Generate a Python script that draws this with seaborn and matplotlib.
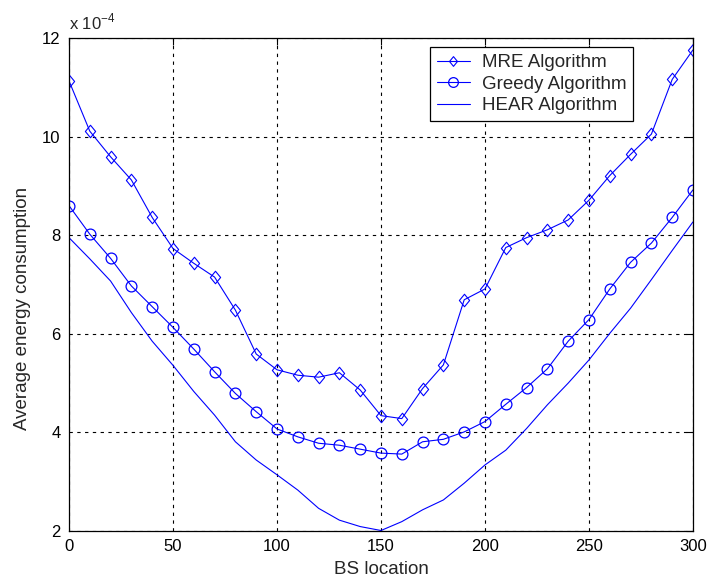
import numpy as np
import pandas as pd
import matplotlib
matplotlib.use("Agg")
import matplotlib.pyplot as plt
from matplotlib.path import Path
import seaborn as sns

# ---- data (values in units of 1e-4) ----
x_markers = [0, 10, 20, 30, 40, 50, 60, 70, 80, 90, 100, 110, 120, 130, 140, 150,
             160, 170, 180, 190, 200, 210, 220, 230, 240, 250, 260, 270, 280, 290, 300]
mre = [11.13, 10.11, 9.59, 9.12, 8.36, 7.73, 7.43, 7.15, 6.48, 5.59, 5.27, 5.16, 5.12,
       5.21, 4.86, 4.34, 4.28, 4.89, 5.37, 6.69, 6.91, 7.75, 7.95, 8.11, 8.31, 8.71,
       9.21, 9.64, 10.05, 11.16, 11.76]
greedy = [8.60, 8.02, 7.53, 6.97, 6.55, 6.13, 5.69, 5.23, 4.79, 4.42, 4.07, 3.91, 3.78,
          3.74, 3.66, 3.58, 3.56, 3.81, 3.86, 4.01, 4.22, 4.57, 4.91, 5.29, 5.85, 6.29,
          6.91, 7.45, 7.84, 8.36, 8.92]
hear = [7.95, 7.52, 7.07, 6.43, 5.85, 5.36, 4.83, 4.35, 3.81, 3.44, 3.14, 2.83, 2.46,
        2.22, 2.09, 2.01, 2.19, 2.43, 2.63, 2.97, 3.34, 3.64, 4.08, 4.56, 5.00, 5.47,
        6.01, 6.52, 7.10, 7.69, 8.27]

series_names = ["MRE Algorithm", "Greedy Algorithm", "HEAR Algorithm"]
x_ticks = [0, 50, 100, 150, 200, 250, 300]
y_ticks = [2, 4, 6, 8, 10, 12]

sns.set_style("white")
plt.rcParams['font.family'] = ['Liberation Sans', 'DejaVu Sans']
plt.rcParams['font.size'] = 12

fig = plt.figure(figsize=(7.08, 5.87), dpi=100)
ax = fig.add_axes([69/708, 56/587, 624/708, 493/587])

# diamond marker, slightly taller than wide (MATLAB style)
diamond = Path([(0, 1), (0.82, 0), (0, -1), (-0.82, 0), (0, 1)],
               [Path.MOVETO, Path.LINETO, Path.LINETO, Path.LINETO, Path.CLOSEPOLY])

df = pd.DataFrame({"x": x_markers, "MRE": mre, "Greedy": greedy, "HEAR": hear})
blue = "#0000ff"
sns.lineplot(data=df, x="x", y="MRE", ax=ax, color=blue, marker=diamond, markersize=9,
             markerfacecolor="none", markeredgecolor=blue, markeredgewidth=0.8,
             linewidth=0.8, label=series_names[0])
sns.lineplot(data=df, x="x", y="Greedy", ax=ax, color=blue, marker="o", markersize=7.8,
             markerfacecolor="none", markeredgecolor=blue, markeredgewidth=0.9,
             linewidth=0.8, label=series_names[1])
sns.lineplot(data=df, x="x", y="HEAR", ax=ax, color=blue, linewidth=0.8,
             label=series_names[2])

ax.set_xlim(0, 300)
ax.set_ylim(2, 12)
ax.set_xticks(x_ticks)
ax.set_yticks(y_ticks)
ax.set_xticklabels([str(v) for v in x_ticks])
ax.set_yticklabels([str(v) for v in y_ticks])
ax.tick_params(direction="in", length=5, width=0.8, top=True, right=True,
               labelsize=12, colors="black", pad=6)
for s in ax.spines.values():
    s.set_visible(True)
    s.set_color("black")
    s.set_linewidth(0.9)
ax.grid(True, color="black", linestyle=(0, (3, 4)), linewidth=0.8)
ax.set_axisbelow(True)

ax.set_xlabel("BS location", fontsize=13.5, labelpad=5)
ax.set_ylabel("Average energy consumption", fontsize=13.5)
ax.yaxis.set_label_coords(-0.061, 0.452)
ax.text(0.0, 1.012, r"x 10$^{\mathregular{-4}}$", transform=ax.transAxes,
        fontsize=12, ha="left", va="bottom")

leg = ax.legend(loc="upper right", bbox_to_anchor=(0.9043, 0.981), borderaxespad=0,
                fancybox=False, edgecolor="black", framealpha=1, fontsize=13.5,
                handlelength=1.75, labelspacing=0.23, borderpad=0.37, handletextpad=0.64)
leg.get_frame().set_linewidth(0.9)
for h in leg.legend_handles:
    if h.get_marker() not in (None, "None", ""):
        h.set_markersize(7)

fig.savefig("out.png", dpi=100, facecolor="white")
